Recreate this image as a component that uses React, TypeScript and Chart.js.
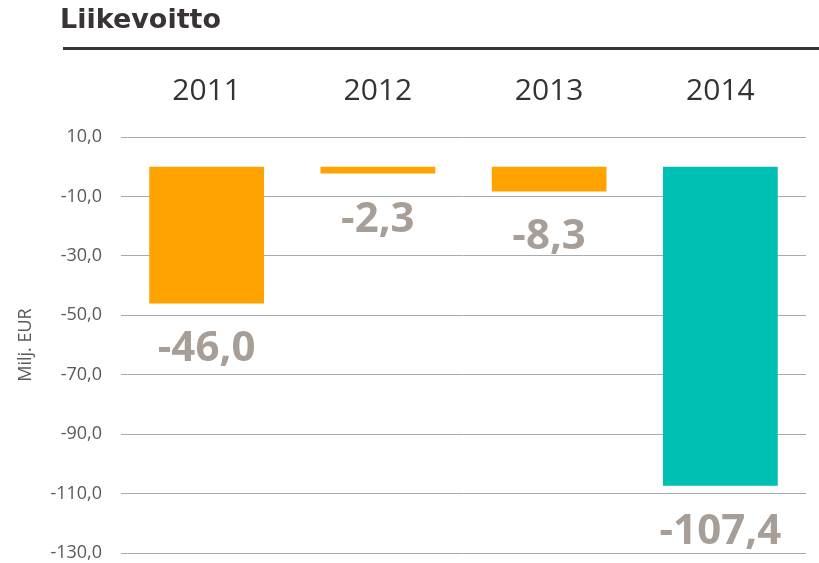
import React, { useEffect, useRef } from "react";
import { Chart, registerables } from "chart.js";

Chart.register(...registerables);

const chartTitle = "Liikevoitto";
const yAxisTitle = "Milj. EUR";
const categories = ["2011", "2012", "2013", "2014"];
const values = [-46.0, -2.3, -8.3, -107.4];
const barColors = ["#FFA300", "#FFA300", "#FFA300", "#00BFB3"];
const yMin = -130;
const yMax = 10;
const yStep = 20;

const fmt = (v: number) => v.toFixed(1).replace(".", ",");

const decorPlugin = {
  id: "decor",
  afterDraw(chart: any) {
    const ctx = chart.ctx;
    ctx.save();
    ctx.fillStyle = "#3a3334";
    ctx.font = "bold 27px 'DejaVu Sans'";
    ctx.textAlign = "left";
    ctx.textBaseline = "alphabetic";
    ctx.fillText(chartTitle, 60, 28);
    ctx.fillRect(63, 47, chart.width - 63, 3);

    const meta = chart.getDatasetMeta(0);
    ctx.font = "bold 42px 'Open Sans'";
    ctx.fillStyle = "#A69E97";
    ctx.textAlign = "center";
    meta.data.forEach((bar: any, i: number) => {
      ctx.fillText(fmt(values[i]), bar.x, bar.y + 58);
    });
    ctx.restore();
  },
};

export default function App() {
  const ref = useRef<HTMLCanvasElement | null>(null);
  useEffect(() => {
    document.body.style.margin = "0";
    const chart = new Chart(ref.current as HTMLCanvasElement, {
      type: "bar",
      data: {
        labels: categories,
        datasets: [
          {
            data: values,
            backgroundColor: barColors,
            barPercentage: 0.67,
            categoryPercentage: 1,
          },
        ],
      },
      options: {
        animation: false,
        responsive: false,
        layout: { padding: { top: 0, right: 13, bottom: 10, left: 0 } },
        plugins: { legend: { display: false }, tooltip: { enabled: false } },
        scales: {
          x: {
            position: "top",
            grid: { display: false, drawTicks: false },
            border: { display: false },
            ticks: {
              color: "#333333",
              font: { family: "'Open Sans'", size: 30 },
              padding: 28,
            },
            afterFit: (s: any) => {
              s.height = 137;
            },
          },
          y: {
            min: yMin,
            max: yMax,
            grid: {
              color: "#ABABAB",
              lineWidth: 1,
              drawTicks: true,
              tickLength: 19,
              tickColor: "rgba(0,0,0,0)",
            },
            border: { display: false },
            ticks: {
              stepSize: yStep,
              color: "#595959",
              font: { family: "'Open Sans'", size: 18, lineHeight: 1 },
              padding: 0,
              callback: (v: any) => fmt(Number(v)),
            },
            title: {
              display: true,
              text: yAxisTitle,
              color: "#595959",
              font: { family: "'Open Sans'", size: 18 },
              padding: { top: 15, bottom: 0 },
            },
            afterFit: (s: any) => {
              s.width = 121;
            },
          },
        },
      },
      plugins: [decorPlugin],
    });
    return () => chart.destroy();
  }, []);
  return <canvas ref={ref} width={819} height={563} style={{ display: "block" }} />;
}
